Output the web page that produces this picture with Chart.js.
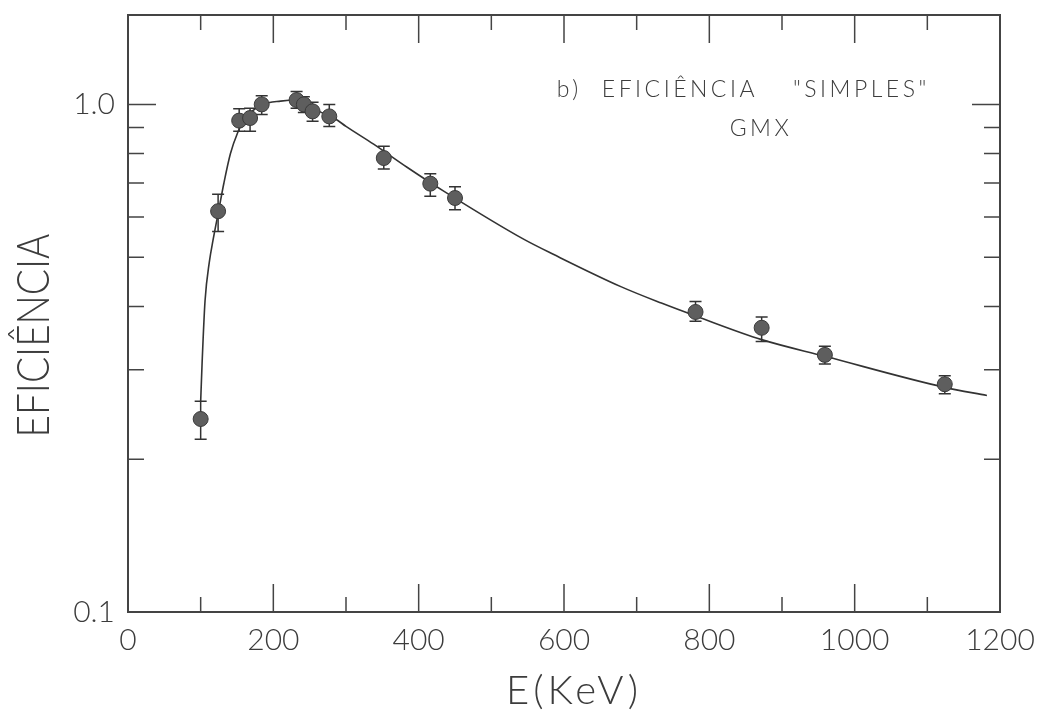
<!DOCTYPE html>
<html>
<head>
<meta charset="utf-8">
<script src="https://cdn.jsdelivr.net/npm/chart.js@4.4.1/dist/chart.umd.min.js"></script>
<style>
    html, body { margin: 0; padding: 0; background: #fff; }
    #wrap { width: 1037px; height: 718px; }
</style>
</head>
<body>
<div id="wrap"><canvas id="effChart" width="1037" height="718"></canvas></div>
<script>
// ── Data ─────────────────────────────────
const energies   = [100, 124, 153, 168, 184, 232, 242, 254, 277, 352, 416, 450, 781, 872, 959, 1124];
const efficiency = [0.240, 0.616, 0.929, 0.940, 1.000, 1.020, 1.000, 0.969, 0.947, 0.784, 0.698, 0.654, 0.390, 0.363, 0.321, 0.281];
const errHigh    = [0.260, 0.665, 0.980, 0.983, 1.040, 1.060, 1.035, 1.010, 1.000, 0.827, 0.730, 0.688, 0.409, 0.381, 0.334, 0.292];
const errLow     = [0.219, 0.562, 0.885, 0.885, 0.955, 0.983, 0.964, 0.926, 0.905, 0.746, 0.659, 0.620, 0.374, 0.341, 0.308, 0.269];

// fitted curve
const fitEnergies = [100, 102, 106, 112, 117, 125, 132, 141, 151, 161, 175, 185, 210, 232, 245, 262, 285, 300, 338, 384, 435, 545, 586, 679, 734, 781, 872, 959, 1124, 1182];
const fitEff      = [0.26, 0.31, 0.41, 0.49, 0.54, 0.62, 0.70, 0.80, 0.88, 0.94, 0.98, 1.00, 1.015, 1.02, 1.00, 0.97, 0.937, 0.905, 0.835, 0.752, 0.674, 0.542, 0.506, 0.437, 0.406, 0.383, 0.344, 0.319, 0.277, 0.267];

// ticks
const xLabelTicks  = [0, 200, 400, 600, 800, 1000, 1200];
const xMajorTicks  = [200, 400, 600, 800, 1000];
const xMinorTicks  = [100, 300, 500, 700, 900, 1100];
const yLabelTicks  = [0.1, 1.0];
const yTickLabels  = ['0.1', '1.0'];
const yMajorTicks  = [1.0];
const yMinorTicks  = [0.2, 0.3, 0.4, 0.5, 0.6, 0.7, 0.8, 0.9];

// inset caption (anchored in data units)
const captionParts = [
    { text: 'b)',          e: 590, eff: 1.032 },
    { text: 'EFICIÊNCIA',  e: 652, eff: 1.032 },
    { text: '"SIMPLES"',   e: 915, eff: 1.032 },
    { text: 'GMX',         e: 828, eff: 0.865 },
];
const xTitle = 'E(KeV)';
const yTitle = 'EFICIÊNCIA';

const FONT = "'Lato', 'Liberation Sans', sans-serif";
const INK  = '#3c3c3c';

// ── Frame, inward ticks, error bars, caption, titles ──
const framePlugin = {
    id: 'framePlugin',
    beforeDatasetsDraw(chart) {
        const { ctx, scales: { x, y } } = chart;
        ctx.save();
        ctx.strokeStyle = '#333';
        ctx.lineWidth = 1.5;
        energies.forEach((e, i) => {
            const px = x.getPixelForValue(e);
            const top = y.getPixelForValue(errHigh[i]);
            const bot = y.getPixelForValue(errLow[i]);
            ctx.beginPath();
            ctx.moveTo(px, top); ctx.lineTo(px, bot);
            ctx.moveTo(px - 6, top); ctx.lineTo(px + 6, top);
            ctx.moveTo(px - 6, bot); ctx.lineTo(px + 6, bot);
            ctx.stroke();
        });
        ctx.restore();
    },
    afterDraw(chart) {
        const { ctx, chartArea: a, scales: { x, y } } = chart;
        ctx.save();
        ctx.strokeStyle = '#444';
        ctx.lineWidth = 2;
        ctx.strokeRect(a.left, a.top, a.right - a.left, a.bottom - a.top);

        ctx.lineWidth = 1.5;
        const vTick = (v, len) => {
            const px = x.getPixelForValue(v);
            ctx.beginPath();
            ctx.moveTo(px, a.bottom); ctx.lineTo(px, a.bottom - len);
            ctx.moveTo(px, a.top);    ctx.lineTo(px, a.top + len);
            ctx.stroke();
        };
        const hTick = (v, len) => {
            const py = y.getPixelForValue(v);
            ctx.beginPath();
            ctx.moveTo(a.left, py);  ctx.lineTo(a.left + len, py);
            ctx.moveTo(a.right, py); ctx.lineTo(a.right - len, py);
            ctx.stroke();
        };
        xMajorTicks.forEach(v => vTick(v, 28));
        xMinorTicks.forEach(v => vTick(v, 15));
        yMajorTicks.forEach(v => hTick(v, 28));
        yMinorTicks.forEach(v => hTick(v, 16));

        const hasSpacing = 'letterSpacing' in ctx;
        ctx.fillStyle = INK;

        // caption
        ctx.font = `300 23px ${FONT}`;
        ctx.textAlign = 'left';
        ctx.textBaseline = 'alphabetic';
        if (hasSpacing) ctx.letterSpacing = '3.5px';
        captionParts.forEach(p => {
            ctx.fillText(p.text, x.getPixelForValue(p.e), y.getPixelForValue(p.eff));
        });

        // x title
        ctx.font = `300 40px ${FONT}`;
        ctx.textAlign = 'center';
        ctx.textBaseline = 'middle';
        if (hasSpacing) ctx.letterSpacing = '4px';
        ctx.fillText(xTitle, (a.left + a.right) / 2 + 10, 691);

        // y title, condensed a little like the plotter lettering
        ctx.font = `300 45px ${FONT}`;
        if (hasSpacing) ctx.letterSpacing = '0px';
        ctx.translate(34, (a.top + a.bottom) / 2 + 22);
        ctx.rotate(-Math.PI / 2);
        ctx.scale(0.86, 1);
        ctx.fillText(yTitle, 0, 0);
        ctx.restore();
    }
};

// ── Chart ────────────────────────────────
new Chart(document.getElementById('effChart'), {
    type: 'scatter',
    data: {
        datasets: [
            {
                label: 'dados',
                data: energies.map((e, i) => ({ x: e, y: efficiency[i] })),
                pointRadius: 7.5,
                pointBackgroundColor: '#5e5e5e',
                pointBorderColor: '#3a3a3a',
                pointBorderWidth: 1,
                showLine: false
            },
            {
                label: 'ajuste',
                data: fitEnergies.map((e, i) => ({ x: e, y: fitEff[i] })),
                showLine: true,
                borderColor: '#333',
                borderWidth: 1.6,
                pointRadius: 0,
                cubicInterpolationMode: 'monotone'
            }
        ]
    },
    options: {
        responsive: false,
        animation: false,
        layout: { padding: { top: 15, right: 37, left: 0, bottom: 0 } },
        plugins: { legend: { display: false }, tooltip: { enabled: false } },
        scales: {
            x: {
                type: 'linear',
                min: 0, max: 1200,
                grid: { display: false },
                border: { display: false },
                afterBuildTicks: s => { s.ticks = xLabelTicks.map(v => ({ value: v })); },
                afterFit: s => { s.height = 106; s.paddingLeft = 0; s.paddingRight = 0; },
                ticks: {
                    padding: 2,
                    color: INK,
                    font: { family: FONT, size: 30, weight: '300' },
                    callback: v => String(v)
                }
            },
            y: {
                type: 'logarithmic',
                min: 0.1, max: 1.5,
                grid: { display: false },
                border: { display: false },
                afterBuildTicks: s => { s.ticks = yLabelTicks.map(v => ({ value: v })); },
                afterFit: s => { s.width = 128; s.paddingTop = 0; s.paddingBottom = 0; },
                ticks: {
                    padding: 5,
                    color: INK,
                    font: { family: FONT, size: 30, weight: '300' },
                    callback: v => yTickLabels[yLabelTicks.indexOf(v)] ?? ''
                }
            }
        }
    },
    plugins: [framePlugin]
});
</script>
</body>
</html>
